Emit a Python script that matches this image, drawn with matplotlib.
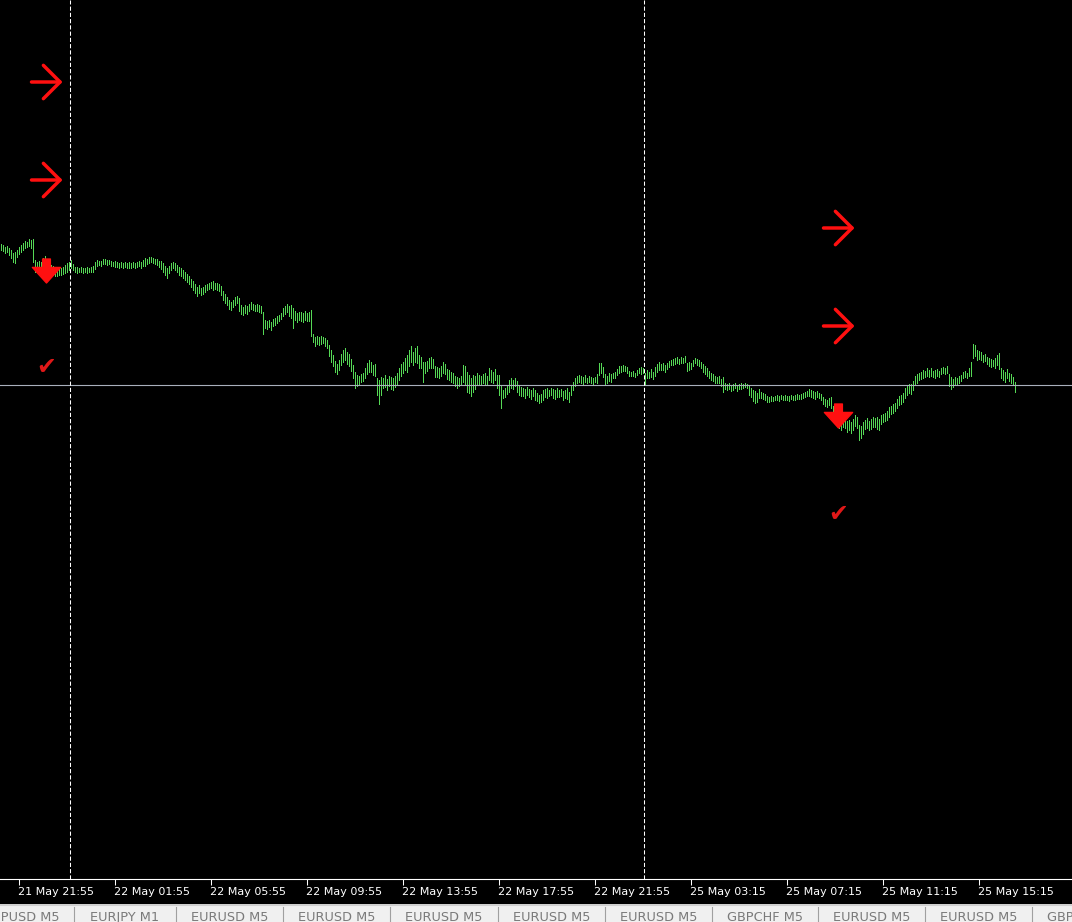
import matplotlib.pyplot as plt

# M5 bars, price in points relative to the last bid (bid line = 0)
BAR_HIGH = [
    141, 140, 138, 139, 137, 135, 132, 133, 135, 138,
    140, 142, 144, 143, 146, 145, 146, 125, 123, 124,
    123, 127, 129, 125, 122, 120, 119, 118, 117, 118,
    117, 118, 120, 122, 123, 125, 121, 118, 118, 117,
    118, 117, 117, 118, 117, 118, 119, 123, 125, 124,
    124, 126, 126, 125, 125, 124, 123, 124, 123, 122,
    123, 122, 123, 122, 123, 122, 123, 122, 123, 124,
    123, 125, 127, 126, 128, 128, 127, 126, 126, 124,
    124, 122, 119, 117, 119, 122, 123, 122, 120, 118,
    117, 115, 113, 111, 109, 106, 104, 101, 98, 100,
    97, 98, 100, 101, 102, 103, 104, 102, 102, 101,
    99, 94, 91, 88, 85, 83, 85, 88, 89, 87,
    80, 78, 80, 79, 81, 83, 81, 80, 81, 80,
    79, 73, 65, 64, 65, 63, 66, 67, 69, 70,
    72, 77, 79, 81, 79, 80, 77, 74, 72, 73,
    73, 72, 74, 72, 73, 75, 51, 48, 49, 48,
    49, 48, 47, 45, 40, 35, 30, 24, 21, 25,
    31, 35, 37, 33, 31, 26, 20, 13, 10, 9,
    11, 12, 17, 22, 25, 23, 20, 21, 7, 5,
    8, 7, 10, 6, 9, 8, 7, 9, 12, 17,
    21, 23, 27, 30, 35, 39, 33, 37, 39, 30,
    28, 23, 23, 24, 27, 28, 26, 19, 18, 17,
    19, 23, 21, 16, 15, 13, 12, 9, 8, 7,
    9, 20, 19, 13, 10, 7, 10, 9, 12, 10,
    9, 11, 12, 9, 17, 15, 13, 16, 10, 10,
    0, -5, -3, 0, 5, 7, 5, 7, 4, -1,
    -2, -3, -4, -2, -4, -5, -3, -5, -8, -10,
    -9, -5, -4, -3, -5, -3, -4, -5, -3, -5,
    -4, -6, -5, -3, -7, -1, 3, 7, 9, 10,
    9, 8, 10, 7, 9, 8, 7, 8, 11, 22,
    22, 18, 11, 9, 12, 11, 12, 13, 16, 19,
    19, 20, 19, 18, 14, 13, 14, 12, 15, 17,
    18, 17, 12, 15, 13, 16, 13, 18, 21, 23,
    21, 22, 20, 22, 24, 25, 26, 27, 28, 26,
    28, 27, 29, 22, 23, 22, 25, 27, 26, 25,
    23, 21, 19, 17, 14, 12, 11, 9, 8, 9,
    6, 8, 2, 1, 2, 0, 1, 2, 0, 1,
    2, 1, 2, 1, -1, -3, -5, -6, -8, -4,
    -7, -8, -9, -11, -12, -11, -12, -11, -10, -11,
    -10, -11, -10, -11, -11, -10, -11, -10, -9, -10,
    -9, -8, -7, -6, -4, -5, -6, -7, -6, -8,
    -9, -12, -14, -15, -13, -12, -21, -25, -28, -33,
    -35, -33, -32, -36, -35, -37, -34, -30, -32, -40,
    -41, -37, -35, -33, -36, -34, -32, -33, -32, -34,
    -30, -29, -28, -26, -22, -21, -19, -18, -14, -11,
    -10, -8, -3, -1, 1, 1, 4, 9, 11, 12,
    13, 15, 14, 17, 15, 17, 14, 15, 16, 14,
    17, 18, 17, 19, 11, 8, 6, 8, 7, 9,
    10, 13, 14, 12, 17, 23, 41, 40, 35, 34,
    33, 30, 31, 28, 27, 26, 25, 27, 30, 32,
    17, 15, 13, 16, 12, 11, 8, 3,
]
BAR_LOW = [
    135, 134, 132, 133, 130, 127, 123, 122, 128, 131,
    133, 135, 137, 138, 139, 137, 123, 113, 115, 112,
    115, 117, 119, 113, 112, 111, 110, 109, 109, 110,
    110, 111, 112, 113, 115, 117, 115, 113, 112, 113,
    113, 112, 113, 112, 113, 113, 113, 116, 119, 120,
    119, 121, 121, 120, 121, 119, 119, 118, 118, 117,
    118, 117, 118, 117, 117, 117, 118, 117, 118, 119,
    117, 119, 119, 121, 122, 123, 122, 121, 120, 118,
    116, 113, 110, 107, 112, 115, 117, 115, 113, 110,
    109, 107, 105, 103, 101, 98, 95, 92, 89, 92,
    90, 91, 93, 95, 96, 97, 95, 96, 95, 94,
    90, 85, 82, 80, 76, 75, 78, 80, 82, 74,
    71, 70, 72, 71, 74, 76, 75, 74, 74, 73,
    72, 51, 57, 56, 58, 55, 59, 60, 62, 64,
    66, 69, 71, 73, 69, 67, 57, 65, 63, 65,
    64, 63, 65, 64, 64, 49, 43, 39, 41, 40,
    41, 42, 39, 37, 29, 23, 19, 13, 11, 15,
    20, 23, 25, 21, 19, 14, 7, -3, -1, 1,
    3, 4, 7, 11, 13, 13, 10, 9, -10, -19,
    -10, -3, -2, -5, -1, -4, -5, -2, 1, 5,
    9, 12, 15, 13, 19, 23, 20, 23, 22, 17,
    17, 3, 12, 14, 17, 17, 17, 8, 8, 7,
    9, 12, 11, 6, 5, 3, 2, -1, -3, -1,
    0, 3, 0, -7, -8, -11, -7, -4, 0, 1,
    0, 2, 1, 0, 5, 3, 2, 5, -3, -10,
    -23, -13, -12, -9, -7, -3, -4, -1, -7, -10,
    -11, -11, -13, -10, -12, -14, -11, -15, -16, -18,
    -17, -15, -12, -13, -11, -10, -13, -14, -12, -12,
    -11, -15, -13, -14, -17, -10, -5, -1, 2, 3,
    2, 1, 3, 2, 3, 2, 1, 3, 2, 10,
    12, 8, 1, 2, 4, 3, 7, 7, 10, 12,
    13, 14, 14, 12, 9, 9, 9, 8, 10, 12,
    11, 12, 1, 7, 7, 8, 6, 9, 13, 15,
    15, 15, 13, 16, 18, 20, 20, 21, 22, 21,
    22, 22, 23, 14, 15, 16, 19, 22, 20, 19,
    17, 13, 11, 9, 7, 5, 4, 2, 2, 2,
    -1, -7, -4, -5, -4, -6, -5, -3, -6, -4,
    -4, -3, -2, -3, -10, -12, -16, -18, -17, -13,
    -13, -14, -15, -17, -17, -16, -16, -15, -15, -16,
    -14, -15, -15, -15, -16, -14, -15, -15, -14, -14,
    -14, -13, -12, -11, -11, -12, -13, -14, -12, -13,
    -15, -19, -21, -22, -20, -23, -33, -35, -40, -43,
    -45, -42, -43, -47, -45, -48, -45, -41, -43, -55,
    -53, -49, -44, -43, -45, -44, -42, -42, -44, -45,
    -39, -37, -36, -35, -32, -29, -28, -26, -23, -20,
    -19, -17, -13, -10, -8, -9, -5, 0, 2, 5,
    6, 7, 8, 9, 8, 9, 8, 7, 9, 8,
    11, 12, 11, 12, -1, -4, -2, 0, 1, 2,
    4, 7, 8, 7, 9, 9, 27, 29, 25, 26,
    25, 23, 24, 21, 19, 18, 19, 17, 20, 16,
    7, 5, 3, 7, 4, 2, 0, -7,
]
BID = 0

TICK_BARS = [9, 57, 105, 153, 201, 249, 297, 345, 393, 441, 489]
TICK_LABELS = ['21 May 21:55', '22 May 01:55', '22 May 05:55', '22 May 09:55',
               '22 May 13:55', '22 May 17:55', '22 May 21:55', '25 May 03:15',
               '25 May 07:15', '25 May 11:15', '25 May 15:15']
DAY_SEPARATORS = [34.5, 321.5]

# signal objects: bar index, price levels
SIGNAL_BARS = [23, 419]
LEVEL_ARROWS = [[303, 205], [157, 59]]
SELL_ARROWS = [114, -31]
CHECK_MARKS = [18, -129]

TAB_LABELS = ['GBPUSD M5', 'EURJPY M1', 'EURUSD M5', 'EURUSD M5', 'EURUSD M5',
              'EURUSD M5', 'EURUSD M5', 'GBPCHF M5', 'EURUSD M5', 'EURUSD M5',
              'GBPUSD M5']

W, H = 1072, 922
CHART_BOTTOM = 879
BAR_COLOR = '#55d855'
RED = '#ff1010'

fig = plt.figure(figsize=(W / 100, H / 100), dpi=100, facecolor='black')
ax = fig.add_axes([0, (H - CHART_BOTTOM) / H, 1, CHART_BOTTOM / H])
ax.set_facecolor('black')

# bars (1 px wide, 2 px per bar)
ax.vlines(range(len(BAR_HIGH)), BAR_LOW, BAR_HIGH, color=BAR_COLOR, lw=0.72,
          antialiased=False)

# bid line and day separators
ax.axhline(BID, color='#a9b0bc', lw=0.8)
for s in DAY_SEPARATORS:
    ax.axvline(s, color='white', lw=0.75, ls=(0, (4, 2)))

# signal objects
for i, levels, sell, chk in zip(SIGNAL_BARS, LEVEL_ARROWS, SELL_ARROWS, CHECK_MARKS):
    for p in levels:
        ax.annotate('', xy=(i + 8, p), xytext=(i - 7.5, p),
                    arrowprops=dict(arrowstyle='->,head_length=0.6,head_width=0.6',
                                    color=RED, lw=2.5, mutation_scale=20,
                                    shrinkA=0, shrinkB=0))
    ax.annotate('', xy=(i, sell - 12), xytext=(i, sell + 12),
                arrowprops=dict(arrowstyle='simple,head_length=0.8,head_width=1.45,tail_width=0.4',
                                color=RED, mutation_scale=14, shrinkA=0, shrinkB=0))
    ax.text(i, chk, '\u2714', ha='center', va='center', fontsize=17, color='#e01818')

ax.set_xlim(-0.25, W / 2 - 0.25)
ax.set_ylim(BID - (CHART_BOTTOM - 385), BID + 385)

for side in ['top', 'left', 'right']:
    ax.spines[side].set_visible(False)
ax.spines['bottom'].set_color('white')
ax.spines['bottom'].set_linewidth(0.8)
ax.set_yticks([])
ax.set_xticks(TICK_BARS)
ax.set_xticklabels(TICK_LABELS, ha='left')
ax.tick_params(axis='x', colors='white', length=4, width=0.75, pad=2, labelsize=8)

# symbol tabs at the bottom
tab = fig.add_axes([0, 0, 1, 18 / H])
tab.set_facecolor('#f0f0f0')
tab.set_xlim(0, W)
tab.set_ylim(0, 18)
tab.set_xticks([])
tab.set_yticks([])
for sp in tab.spines.values():
    sp.set_visible(False)
tab.axhline(17.5, color='#d0d0d0', lw=1.5)
seps = [74, 176, 283, 390, 498, 605, 712, 818, 925, 1032]
centers = [seps[0] - 53.5] + [(a + b) / 2 for a, b in zip(seps[:-1], seps[1:])] + [seps[-1] + 53.5]
for s in seps:
    tab.plot([s, s], [0, 15], color='#a0a0a0', lw=0.8)
for c, label in zip(centers, TAB_LABELS):
    tab.text(c, 1.5, label, ha='center', va='baseline', fontsize=9.3, color='#7a7a7a')

fig.savefig('out.png', dpi=100, facecolor='black')
